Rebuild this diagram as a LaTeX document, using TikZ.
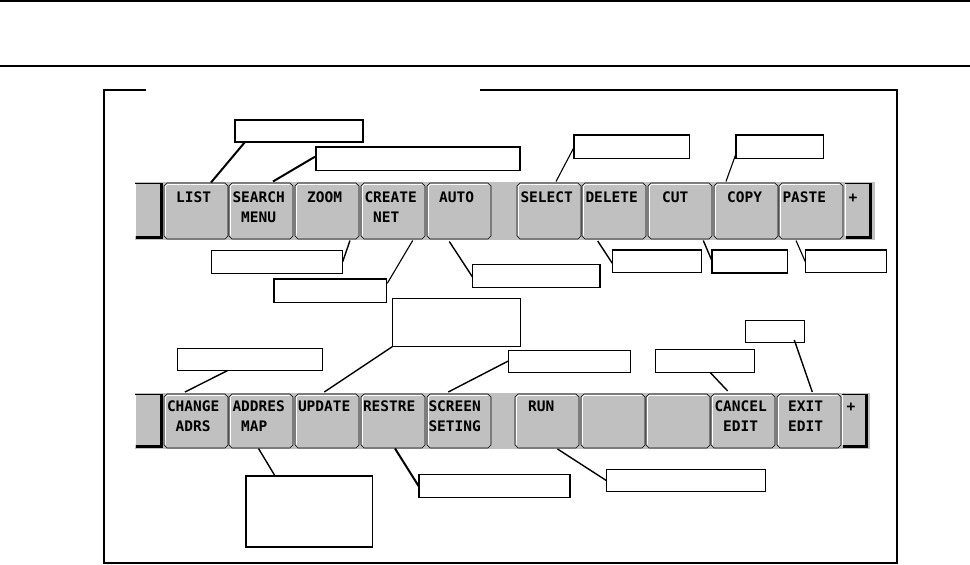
\documentclass[tikz,border=0pt]{standalone}
\usepackage{fontspec}
\newfontfamily\kfont{DejaVu Sans Mono}
\usetikzlibrary{calc}
\definecolor{keygray}{HTML}{C0C0C0}
\newcommand\kspc{\phantom{0}}
\tikzset{
  keybox/.style={rectangle,inner sep=0pt,outer sep=0pt,anchor=north west,minimum width=64pt,draw=none},
  keyface/.style={fill=keygray,draw=black,line width=0.6pt},
  keyhl/.style={draw=white,line width=0.8pt},
  sidebox/.style={rectangle,inner sep=0pt,outer sep=0pt,anchor=north west,draw=none},
  bandbox/.style={rectangle,inner sep=0pt,outer sep=0pt,anchor=north west,fill=keygray,draw=none},
  ktxt/.style={inner sep=0pt,outer sep=0pt,anchor=base west,font=\kfont\bfseries\fontsize{14.5}{17}\selectfont},
  callout/.style={draw=black,line width=1.3pt,fill=white,inner sep=0pt,outer sep=0pt,anchor=north west},
  lead/.style={line width=1.4pt},
  leadthin/.style={line width=1.1pt},
  leadthick/.style={line width=2pt},
  rule/.style={line width=2pt},
}
% key: name, x, y, height
\newcommand\fk[4]{%
  \node[keybox,minimum height=#4pt] (#1) at (#2,#3) {};
  \path[keyface] ($(#1.north west)+(3,0)$) -- ($(#1.north east)+(-3,0)$) -- ($(#1.north east)+(0,3)$)
    -- ($(#1.south east)+(0,-3)$) -- ($(#1.south east)+(-3,0)$) -- ($(#1.south west)+(3,0)$)
    -- ($(#1.south west)+(0,-3)$) -- ($(#1.north west)+(0,3)$) -- cycle;
  \path[keyhl] ($(#1.south west)+(1.4,-3.5)$) -- ($(#1.north west)+(1.4,3.5)$)
    -- ($(#1.north west)+(3.5,1.4)$) -- ($(#1.north east)+(-3.5,1.4)$);
}
% side key: name, x, y, width, height
\newcommand\sk[5]{%
  \node[sidebox,minimum width=#4pt,minimum height=#5pt] (#1) at (#2,#3) {};
  \fill[keygray] (#1.north west) rectangle (#1.south east);
  \draw[white,line width=0.8pt] ($(#1.south west)+(0.6,-3)$) -- ($(#1.north west)+(0.6,0.6)$) -- ($(#1.north east)+(-3,0.6)$);
  \draw[black,line width=0.6pt] ($(#1.north west)+(0.3,0.3)$) -- ($(#1.north east)+(-0.3,0.3)$);
  \fill[black] ($(#1.north east)+(-3.5,1)$) rectangle (#1.south east);
  \fill[black] ($(#1.south west)+(1,-3.5)$) rectangle (#1.south east);
}
% key text: node name, key, dx, dy, text
\newcommand\kt[5]{\node[ktxt] (#1) at ($(#2.north west)+(#3,#4)$) {#5};}
% callout box: name, x, y, w, h
\newcommand\cbox[5]{\node[callout,minimum width=#4pt,minimum height=#5pt] (#1) at (#2,#3) {};}

\begin{document}
\begin{tikzpicture}[x=1pt,y=-1pt]
\useasboundingbox (0,0) rectangle (970,565);
\coordinate (tl0) at (0,1);   \coordinate (tl1) at (970,1);
\coordinate (sl0) at (0,66);  \coordinate (sl1) at (970,66);
\draw[line width=1.4pt] (tl0) -- (tl1);
\draw[line width=2.2pt] (sl0) -- (sl1);
% frame
\coordinate (fa) at (146,90); \coordinate (fb) at (104,90); \coordinate (fc) at (104,563);
\coordinate (fd) at (897,563); \coordinate (fe) at (897,90); \coordinate (ff) at (480,90);
\draw[rule] (fa) -- (fb) -- (fc) -- (fd) -- (fe) -- (ff);

% ---------- top key bar ----------
\node[bandbox,minimum width=740pt,minimum height=58pt] (bandT) at (135,182) {};
\sk{ltop}{135}{183}{28}{56}
\sk{ptop}{845}{183}{27}{56}
\fk{list}{164}{183}{56}
\fk{search}{229}{183}{56}
\fk{zoom}{295}{183}{56}
\fk{create}{361}{183}{56}
\fk{auto}{427}{183}{56}
\fk{select}{517}{183}{56}
\fk{delete}{582}{183}{56}
\fk{cut}{648}{183}{56}
\fk{copy}{714}{183}{56}
\fk{paste}{779}{183}{56}
\kt{listA}{list}{3.5}{19}{\kspc LIST}
\kt{searchA}{search}{3.5}{19}{SEARCH}
\kt{searchB}{search}{3.5}{39}{\kspc MENU}
\kt{zoomA}{zoom}{3.5}{19}{\kspc ZOOM}
\kt{createA}{create}{3.5}{19}{CREATE}
\kt{createB}{create}{3.5}{39}{\kspc NET}
\kt{autoA}{auto}{3.5}{19}{\kspc AUTO}
\kt{selectA}{select}{3.5}{19}{SELECT}
\kt{deleteA}{delete}{3.5}{19}{DELETE}
\kt{cutA}{cut}{5.5}{19}{\kspc CUT}
\kt{copyA}{copy}{4.5}{19}{\kspc COPY}
\kt{pasteA}{paste}{3.5}{19}{PASTE}
\kt{ptopA}{ptop}{3.5}{19}{+}

% ---------- bottom key bar ----------
\node[bandbox,minimum width=735pt,minimum height=56pt] (bandB) at (135,393) {};
\sk{lbot}{135}{394}{28}{54}
\sk{pbot}{842}{394}{26}{54}
\fk{change}{164}{394}{54}
\fk{addres}{229}{394}{54}
\fk{update}{295}{394}{54}
\fk{restre}{361}{394}{54}
\fk{screen}{427}{394}{54}
\fk{run}{515}{394}{54}
\fk{blanka}{581}{394}{54}
\fk{blankb}{646}{394}{54}
\fk{cancel}{711}{394}{54}
\fk{exit}{777}{394}{54}
\kt{changeA}{change}{3}{17.7}{CHANGE}
\kt{changeB}{change}{3}{37.7}{\kspc ADRS}
\kt{addresA}{addres}{3.5}{17.7}{ADDRES}
\kt{addresB}{addres}{3.5}{37.7}{\kspc MAP}
\kt{updateA}{update}{3}{17.7}{UPDATE}
\kt{restreA}{restre}{2}{17.7}{RESTRE}
\kt{screenA}{screen}{1.5}{17.7}{SCREEN}
\kt{screenB}{screen}{1.5}{37.7}{SETING}
\kt{runA}{run}{4.5}{17.7}{\kspc RUN}
\kt{cancelA}{cancel}{3.5}{17.7}{CANCEL}
\kt{cancelB}{cancel}{3.5}{37.7}{\kspc EDIT}
\kt{exitA}{exit}{2.5}{17.7}{\kspc EXIT}
\kt{exitB}{exit}{2.5}{37.7}{\kspc EDIT}
\kt{pbotA}{pbot}{4.5}{17.7}{+}

% ---------- callout boxes ----------
\cbox{cA}{235}{120}{128}{22}
\cbox{cB}{316}{147}{204}{23.7}
\cbox{cC}{211.7}{250.3}{130.6}{23}
\cbox{cD}{274}{279}{112.7}{23.3}
\cbox{cE}{472.7}{264.3}{127.3}{23}
\cbox{cF}{574}{135}{115.3}{23.3}
\cbox{cG}{736}{135}{87.3}{23.3}
\cbox{cH}{612.3}{250}{89.4}{22.7}
\cbox{cI}{712}{250}{75.3}{23}
\cbox{cJ}{805.3}{250}{81.4}{22.5}
\cbox{cK}{392.3}{298.3}{128.4}{48.4}
\cbox{cL}{177.3}{348.3}{145.4}{22.4}
\cbox{cM}{508.3}{350.3}{122.4}{22}
\cbox{cN}{655.3}{349.3}{99.4}{23}
\cbox{cO}{745.3}{320.3}{59}{22}
\cbox{cP}{246}{476}{126.5}{71}
\cbox{cQ}{419}{474.3}{151}{23}
\cbox{cR}{606.6}{469.3}{159.1}{22}

% ---------- leaders ----------
\draw[leadthick] ($(list.north west)+(47,-0.5)$) -- ($(cA.south west)+(10,0)$);
\draw[leadthick] ($(search.north west)+(44,-1.5)$) -- ($(cB.north west)+(-1,9.7)$);
\draw[lead] ($(zoom.south west)+(55,1.5)$) -- ($(cC.north east)+(0.4,11.4)$);
\draw[leadthin] ($(create.south west)+(51.7,1.5)$) -- ($(cD.north east)+(0.6,4.3)$);
\draw[lead] ($(auto.south west)+(22.3,2.5)$) -- ($(cE.north west)+(0,13)$);
\draw[leadthin] ($(select.north west)+(39,-1.5)$) -- ($(cF.north west)+(0,12.3)$);
\draw[leadthin] ($(copy.north west)+(12,-1.5)$) -- ($(cG.north west)+(0.7,16.7)$);
\draw[lead] ($(delete.south west)+(15.7,2)$) -- ($(cH.north west)+(0,13.3)$);
\draw[lead] ($(cut.south west)+(55.3,1.5)$) -- ($(cI.north west)+(0,11)$);
\draw[leadthin] ($(paste.south west)+(17,1.5)$) -- ($(cJ.north west)+(0,11.7)$);
\draw[lead] ($(update.north west)+(29.3,-2)$) -- (cK.south west);
\draw[lead] ($(change.north west)+(21,-2)$) -- ($(cL.south west)+(50,0)$);
\draw[lead] ($(screen.north west)+(21.3,-2)$) -- ($(cM.north west)+(0,10.7)$);
\draw[lead] ($(cancel.north west)+(16.7,-3)$) -- ($(cN.south west)+(54.7,0)$);
\draw[lead] ($(exit.north west)+(35.3,-2)$) -- ($(cO.south west)+(49,-2.3)$);
\draw[lead] ($(addres.south west)+(29.5,0.5)$) -- ($(cP.north west)+(29.5,0.7)$);
\draw[leadthick] ($(restre.south west)+(34,0.5)$) -- ($(cQ.north west)+(0,12.4)$);
\draw[lead] ($(run.south west)+(42.5,1)$) -- ($(cR.north west)+(0,11.4)$);
\end{tikzpicture}
\end{document}
